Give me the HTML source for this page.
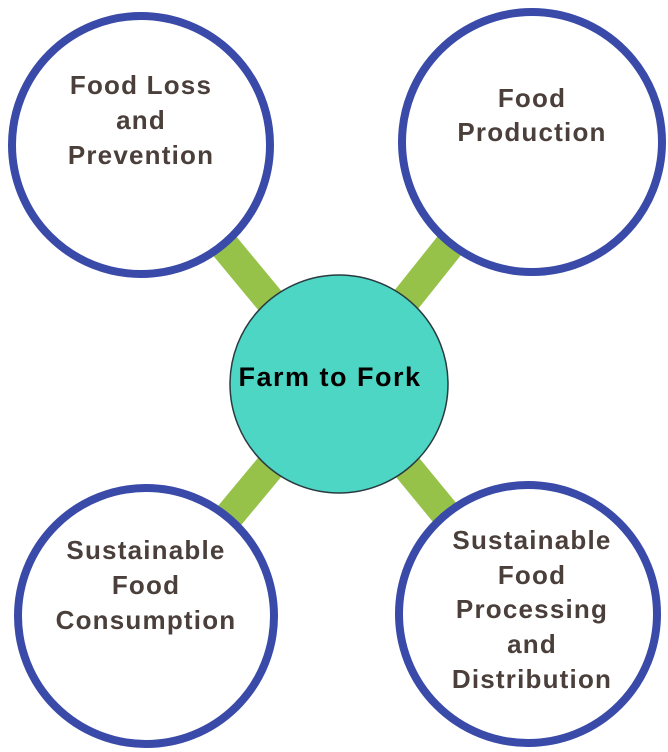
<!DOCTYPE html>
<html><head><style>
html,body{margin:0;padding:0;background:#fff;width:668px;height:752px;overflow:hidden}
</style></head><body>
<svg width="668" height="752" viewBox="0 0 668 752" xmlns="http://www.w3.org/2000/svg">
<g stroke="#96c24a" stroke-width="30">
<line x1="141" y1="145" x2="339" y2="384"/>
<line x1="532" y1="142" x2="339" y2="384"/>
<line x1="146" y1="616" x2="339" y2="384"/>
<line x1="528" y1="614" x2="339" y2="384"/>
</g>
<g fill="#fff" stroke="#3a4aa8" stroke-width="8">
<circle cx="141" cy="145" r="129"/>
<circle cx="532" cy="142" r="130"/>
<circle cx="146" cy="616" r="128"/>
<circle cx="528" cy="614" r="129"/>
</g>
<circle cx="339" cy="384" r="109" fill="#4dd6c4" stroke="#2a3a40" stroke-width="1.5"/>
<text x="330" y="386" font-family="Liberation Sans, sans-serif" font-weight="bold" font-size="27" letter-spacing="1.5" fill="#000" text-anchor="middle">Farm to Fork</text>
<g font-family="Liberation Sans, sans-serif" font-weight="bold" font-size="26" letter-spacing="1.2" fill="#4a3f3a" text-anchor="middle">
<text x="141" y="94">Food Loss</text>
<text x="141" y="129">and</text>
<text x="141" y="164">Prevention</text>
<text x="532" y="107">Food</text>
<text x="532" y="141">Production</text>
<text x="146" y="559">Sustainable</text>
<text x="146" y="594">Food</text>
<text x="146" y="629">Consumption</text>
<text x="532" y="549">Sustainable</text>
<text x="532" y="584">Food</text>
<text x="532" y="618">Processing</text>
<text x="532" y="653">and</text>
<text x="532" y="688">Distribution</text>
</g>
</svg>
</body></html>
